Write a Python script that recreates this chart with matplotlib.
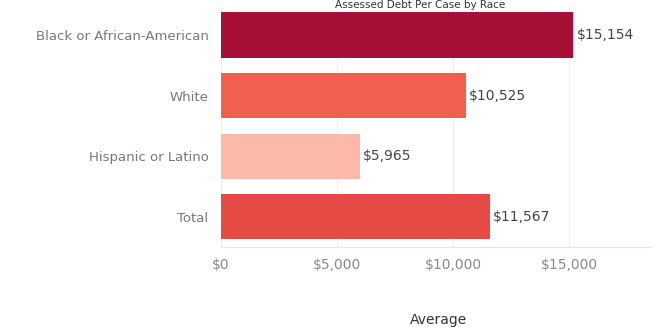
import matplotlib.pyplot as plt
from matplotlib.ticker import FuncFormatter

# Données
groupes = ["Black or African-American", "White", "Hispanic or Latino", "Total"]
moyennes = [15154, 10525, 5965, 11567]
couleurs = ["#a80f36", "#f05f4f", "#fcb9a8", "#e54a44"]
ticks_x = [0, 5000, 10000, 15000]

fig = plt.figure(figsize=(6.56, 3.28), dpi=100)
ax = fig.add_axes([0.337, 0.247, 0.655, 0.738])

y = range(len(groupes))
ax.barh(y, moyennes, height=0.75, color=couleurs, zorder=3)

for yi, v in zip(y, moyennes):
    ax.text(v + 150, yi, f"${v:,}", va="center", ha="left",
            fontsize=10, color="#444444", family="DejaVu Sans")

ax.set_xlim(0, 18500)
ax.set_ylim(3.5, -0.5)
ax.set_yticks(list(y))
ax.set_yticklabels(groupes, fontsize=9.5, color="#777777")
ax.set_xticks(ticks_x)
ax.xaxis.set_major_formatter(FuncFormatter(lambda v, p: f"${v:,.0f}"))
ax.tick_params(axis="x", labelsize=10, labelcolor="#888888", length=0, pad=8)
ax.tick_params(axis="y", length=0, pad=9)

ax.grid(axis="x", color="#eeeeee", linewidth=0.8, zorder=0)
for s in ["top", "right", "left"]:
    ax.spines[s].set_visible(False)
ax.spines["bottom"].set_color("#e6e6e6")

fig.text(0.668, 0.012, "Average", ha="center", fontsize=10, color="#333333")
fig.text(0.64, 0.999, "Assessed Debt Per Case by Race", ha="center", va="top",
         fontsize=7.5, color="#333333")

plt.savefig("out.png", dpi=100)
